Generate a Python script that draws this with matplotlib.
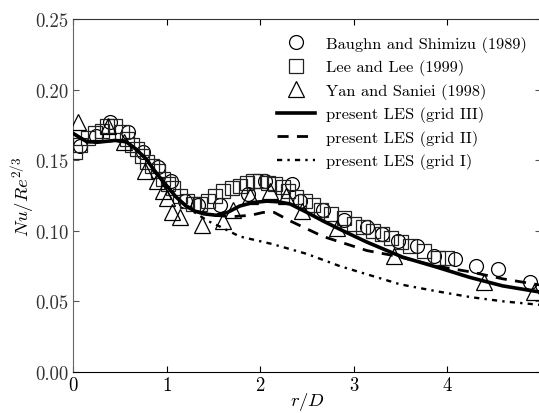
import matplotlib
matplotlib.use("Agg")
import matplotlib.pyplot as plt
from matplotlib.ticker import FormatStrFormatter

plt.rcParams['font.family'] = ['cmr10', 'DejaVu Serif']
plt.rcParams['mathtext.fontset'] = 'cm'
plt.rcParams['axes.unicode_minus'] = False

# Baughn and Shimizu (1989)
bs_r = [0.07, 0.25, 0.39, 0.59, 0.75, 0.91, 1.05, 1.20, 1.34, 1.57, 1.87, 2.05, 2.34, 2.42,
        2.67, 2.90, 3.14, 3.30, 3.47, 3.67, 3.86, 4.08, 4.31, 4.54, 4.88]
bs_nu = [0.160, 0.167, 0.177, 0.170, 0.156, 0.145, 0.135, 0.121, 0.118, 0.118, 0.126, 0.135,
         0.133, 0.121, 0.115, 0.108, 0.103, 0.098, 0.093, 0.089, 0.082, 0.080, 0.075, 0.073, 0.064]

# Lee and Lee (1999)
ll_r = [0.02, 0.07, 0.16, 0.23, 0.31, 0.36, 0.45, 0.52, 0.58, 0.63, 0.68, 0.74, 0.79, 0.84,
        0.91, 0.96, 1.01, 1.07, 1.14, 1.22, 1.28, 1.36, 1.44, 1.52, 1.60, 1.70, 1.78, 1.86,
        1.92, 2.00, 2.08, 2.16, 2.24, 2.30, 2.38, 2.48, 2.56, 2.65, 2.76, 2.90, 3.00, 3.10,
        3.20, 3.30, 3.40, 3.50, 3.60, 3.75, 3.90, 4.00]
ll_nu = [0.156, 0.161, 0.166, 0.169, 0.171, 0.174, 0.174, 0.170, 0.165, 0.161, 0.158, 0.153,
         0.149, 0.146, 0.142, 0.137, 0.133, 0.130, 0.125, 0.121, 0.119, 0.119, 0.121, 0.125,
         0.128, 0.130, 0.132, 0.134, 0.135, 0.135, 0.134, 0.133, 0.131, 0.128, 0.124, 0.121,
         0.118, 0.115, 0.112, 0.109, 0.105, 0.103, 0.100, 0.098, 0.095, 0.092, 0.089, 0.086,
         0.081, 0.081]

# Yan and Saniei (1998)
ys_r = [0.05, 0.37, 0.55, 0.77, 0.90, 0.96, 1.00, 1.06, 1.14, 1.38, 1.60, 1.71, 1.89, 2.10,
        2.28, 2.45, 2.82, 3.43, 4.39, 4.93]
ys_nu = [0.177, 0.174, 0.163, 0.142, 0.135, 0.128, 0.123, 0.113, 0.110, 0.104, 0.107, 0.115,
         0.125, 0.128, 0.125, 0.114, 0.102, 0.082, 0.064, 0.057]

# present LES (grid III)
g3_r = [0.0, 0.15, 0.3, 0.45, 0.57, 0.67, 0.78, 0.9, 1.0, 1.1, 1.2, 1.3, 1.4, 1.53, 1.65,
        1.78, 1.92, 2.07, 2.2, 2.32, 2.5, 2.67, 2.9, 3.14, 3.52, 3.88, 4.24, 4.59, 5.0]
g3_nu = [0.169, 0.163, 0.163, 0.164, 0.163, 0.158, 0.151, 0.140, 0.132, 0.124, 0.118, 0.114,
         0.112, 0.111, 0.113, 0.1175, 0.120, 0.121, 0.1205, 0.119, 0.113, 0.107, 0.0995,
         0.092, 0.0814, 0.0744, 0.067, 0.061, 0.0565]

# present LES (grid II)
g2_r = [0.0, 0.15, 0.3, 0.45, 0.57, 0.67, 0.78, 0.9, 1.0, 1.1, 1.2, 1.3, 1.5, 1.7, 1.9,
        2.03, 2.15, 2.32, 2.67, 3.14, 3.46, 3.88, 4.24, 4.59, 5.0]
g2_nu = [0.169, 0.163, 0.163, 0.164, 0.163, 0.158, 0.151, 0.140, 0.132, 0.124, 0.118, 0.114,
         0.111, 0.110, 0.111, 0.113, 0.113, 0.107, 0.096, 0.086, 0.082, 0.075, 0.071, 0.066,
         0.0615]

# present LES (grid I)
g1_r = [0.0, 0.15, 0.3, 0.45, 0.57, 0.67, 0.78, 0.9, 1.0, 1.1, 1.2, 1.3, 1.44, 1.57, 1.78,
        2.13, 2.5, 2.85, 3.15, 3.5, 3.9, 4.25, 4.6, 5.0]
g1_nu = [0.169, 0.163, 0.163, 0.164, 0.163, 0.158, 0.151, 0.140, 0.132, 0.124, 0.118, 0.113,
         0.107, 0.103, 0.096, 0.0906, 0.0836, 0.075, 0.069, 0.062, 0.057, 0.053, 0.050, 0.0475]

xticks = [0, 1, 2, 3, 4]
yticks = [0.00, 0.05, 0.10, 0.15, 0.20, 0.25]

fig = plt.figure(figsize=(5.39, 4.14), dpi=100)
ax = fig.add_axes([73/539, 41/414, 468/539, 353/414])

ms = 10
ax.plot(bs_r, bs_nu, 'o', mfc='none', mec='black', ms=ms, mew=0.9,
        label='Baughn and Shimizu (1989)', zorder=3)
ax.plot(ll_r, ll_nu, 's', mfc='none', mec='#222222', ms=ms, mew=0.9,
        label='Lee and Lee (1999)', zorder=3)
ax.plot(ys_r, ys_nu, '^', mfc='none', mec='black', ms=ms + 1, mew=0.9,
        label='Yan and Saniei (1998)', zorder=3)
ax.plot(g3_r, g3_nu, '-', color='black', lw=2.6, label='present LES (grid III)', zorder=4)
ax.plot(g2_r, g2_nu, color='black', lw=2.0, ls=(0, (4, 3)), label='present LES (grid II)', zorder=4)
ax.plot(g1_r, g1_nu, color='black', lw=1.7, ls=(0, (2.2, 2.2, 1.0, 2.2)),
        label='present LES (grid I)', zorder=4)

ax.set_xlim(0, 5)
ax.set_ylim(0, 0.25)
ax.set_xticks(xticks)
ax.set_yticks(yticks)
ax.yaxis.set_major_formatter(FormatStrFormatter('%.2f'))
ax.tick_params(direction='in', top=True, right=True, labelsize=13.5, length=4, width=0.8,
               pad=3)
ax.tick_params(axis='y', colors='#555555', labelcolor='#333333')
ax.spines['left'].set_color('#666666')
ax.spines['top'].set_color('#333333')
ax.spines['bottom'].set_color('black')

ax.set_xlabel('$r/D$', fontsize=13.5, labelpad=-3)
ax.set_ylabel('$Nu/Re^{2/3}$', fontsize=13.5, labelpad=-1)

leg = ax.legend(loc='upper right', frameon=False, fontsize=11.8, handlelength=2.3,
                labelspacing=0.46, borderaxespad=0.3, handletextpad=0.7,
                bbox_to_anchor=(0.995, 0.985))

fig.savefig('out.png', dpi=100)
